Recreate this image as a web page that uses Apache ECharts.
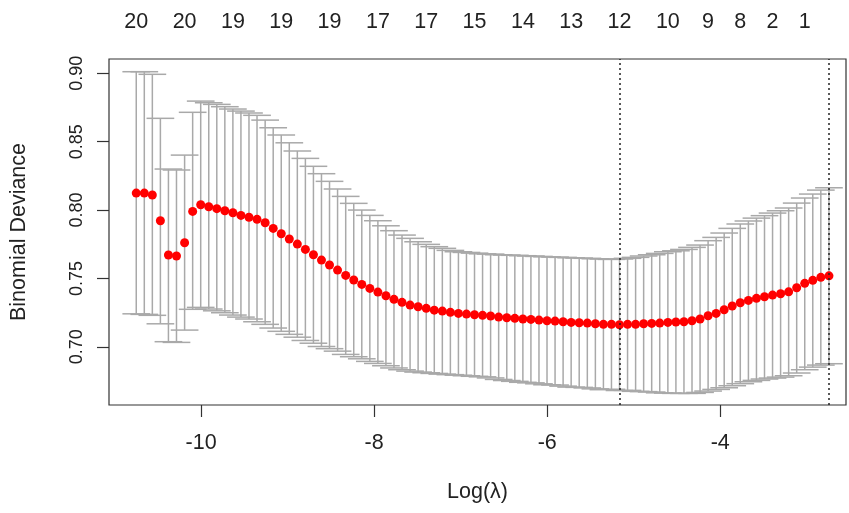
<!DOCTYPE html>
<html>
<head>
<meta charset="utf-8">
<script src="https://cdn.jsdelivr.net/npm/echarts@6/dist/echarts.min.js"></script>
<style>
html, body { margin: 0; padding: 0; background: #fff; }
#chart { width: 849px; height: 513px; }
</style>
</head>
<body>
<div id="chart"></div>
<script>
// log(lambda) of each fit on the path
var logLambda = [
  -10.750, -10.657, -10.564, -10.471, -10.378, -10.285, -10.191, -10.098, -10.005, -9.912,
  -9.819, -9.726, -9.633, -9.540, -9.447, -9.354, -9.260, -9.167, -9.074, -8.981,
  -8.888, -8.795, -8.702, -8.609, -8.516, -8.423, -8.329, -8.236, -8.143, -8.050,
  -7.957, -7.864, -7.771, -7.678, -7.585, -7.492, -7.398, -7.305, -7.212, -7.119,
  -7.026, -6.933, -6.840, -6.747, -6.654, -6.561, -6.467, -6.374, -6.281, -6.188,
  -6.095, -6.002, -5.909, -5.816, -5.723, -5.630, -5.536, -5.443, -5.350, -5.257,
  -5.164, -5.071, -4.978, -4.885, -4.792, -4.699, -4.605, -4.512, -4.419, -4.326,
  -4.233, -4.140, -4.047, -3.954, -3.861, -3.768, -3.674, -3.581, -3.488, -3.395,
  -3.302, -3.209, -3.116, -3.023, -2.930, -2.837, -2.743
];
// mean cross-validated binomial deviance
var cvm = [
  0.8124, 0.8124, 0.8110, 0.7922, 0.7671, 0.7664, 0.7761, 0.7990, 0.8039, 0.8024,
  0.8010, 0.7995, 0.7980, 0.7961, 0.7947, 0.7932, 0.7907, 0.7866, 0.7827, 0.7788,
  0.7751, 0.7712, 0.7673, 0.7634, 0.7598, 0.7561, 0.7522, 0.7488, 0.7456, 0.7427,
  0.7400, 0.7373, 0.7347, 0.7325, 0.7305, 0.7293, 0.7281, 0.7268, 0.7261, 0.7252,
  0.7244, 0.7239, 0.7234, 0.7230, 0.7225, 0.7217, 0.7212, 0.7208, 0.7203, 0.7200,
  0.7195, 0.7190, 0.7188, 0.7183, 0.7178, 0.7176, 0.7173, 0.7168, 0.7164, 0.7164,
  0.7161, 0.7164, 0.7164, 0.7168, 0.7171, 0.7173, 0.7178, 0.7181, 0.7183, 0.7190,
  0.7203, 0.7227, 0.7244, 0.7271, 0.7298, 0.7322, 0.7339, 0.7354, 0.7366, 0.7378,
  0.7388, 0.7402, 0.7432, 0.7464, 0.7486, 0.7508, 0.7519
];
// upper / lower ends of the error bars
var cvUp = [
  0.9012, 0.9012, 0.8993, 0.8671, 0.8300, 0.8293, 0.8402, 0.8715, 0.8797, 0.8785,
  0.8773, 0.8756, 0.8739, 0.8724, 0.8710, 0.8693, 0.8658, 0.8602, 0.8549, 0.8492,
  0.8432, 0.8378, 0.8320, 0.8266, 0.8210, 0.8154, 0.8100, 0.8049, 0.8000, 0.7961,
  0.7922, 0.7885, 0.7849, 0.7817, 0.7793, 0.7768, 0.7749, 0.7732, 0.7720, 0.7705,
  0.7695, 0.7690, 0.7685, 0.7680, 0.7678, 0.7673, 0.7671, 0.7669, 0.7666, 0.7664,
  0.7661, 0.7658, 0.7656, 0.7654, 0.7651, 0.7649, 0.7647, 0.7644, 0.7642, 0.7639,
  0.7642, 0.7647, 0.7654, 0.7664, 0.7673, 0.7683, 0.7695, 0.7702, 0.7712, 0.7727,
  0.7744, 0.7776, 0.7800, 0.7832, 0.7866, 0.7898, 0.7920, 0.7941, 0.7959, 0.7978,
  0.7995, 0.8015, 0.8051, 0.8088, 0.8117, 0.8146, 0.8163
];
var cvLo = [
  0.7241, 0.7237, 0.7230, 0.7168, 0.7037, 0.7032, 0.7122, 0.7274, 0.7288, 0.7276,
  0.7263, 0.7249, 0.7232, 0.7217, 0.7203, 0.7183, 0.7164, 0.7137, 0.7113, 0.7091,
  0.7070, 0.7046, 0.7026, 0.7002, 0.6986, 0.6968, 0.6944, 0.6927, 0.6912, 0.6893,
  0.6878, 0.6861, 0.6845, 0.6832, 0.6822, 0.6815, 0.6810, 0.6805, 0.6800, 0.6796,
  0.6792, 0.6788, 0.6784, 0.6780, 0.6772, 0.6761, 0.6753, 0.6747, 0.6740, 0.6736,
  0.6729, 0.6722, 0.6720, 0.6712, 0.6705, 0.6703, 0.6699, 0.6692, 0.6686, 0.6689,
  0.6680, 0.6681, 0.6674, 0.6672, 0.6669, 0.6663, 0.6661, 0.6659, 0.6659, 0.6659,
  0.6666, 0.6676, 0.6688, 0.6700, 0.6715, 0.6730, 0.6744, 0.6754, 0.6764, 0.6771,
  0.6778, 0.6788, 0.6808, 0.6832, 0.6851, 0.6866, 0.6876
];
// top axis: number of non-zero coefficients at some of the fits
var nzIndex = [0, 6, 12, 18, 24, 30, 36, 42, 48, 54, 60, 66, 71, 75, 79, 83];
var nzLabels = ['20', '20', '19', '19', '19', '17', '17', '15', '14', '13', '12', '10', '9', '8', '2', '1'];
var xTicks = [-10, -8, -6, -4];
var yTicks = [0.70, 0.75, 0.80, 0.85, 0.90];
// lambda.min and lambda.1se
var cutLines = [-5.164, -2.743];

var xMin = -11.065, xMax = -2.546;
var yMin = 0.6574, yMax = 0.9105;
var font = 'Liberation Sans, Arial, sans-serif';
var ink = '#222';

// caps are 2% of the lambda range wide on each side
var barw = (logLambda[logLambda.length - 1] - logLambda[0]) * 0.02;

var chart = echarts.init(document.getElementById('chart'));

function renderBar(params, api) {
    var x = api.value(0);
    var hi = api.value(1);
    var lo = api.value(2);
    var top = api.coord([x, hi]);
    var bot = api.coord([x, lo]);
    var tl = api.coord([x - barw, hi]);
    var tr = api.coord([x + barw, hi]);
    var bl = api.coord([x - barw, lo]);
    var br = api.coord([x + barw, lo]);
    var style = { stroke: '#a9a9a9', lineWidth: 1.5, fill: null };
    return {
        type: 'group',
        children: [
            { type: 'line', shape: { x1: top[0], y1: top[1], x2: bot[0], y2: bot[1] }, style: style },
            { type: 'line', shape: { x1: tl[0], y1: tl[1], x2: tr[0], y2: tr[1] }, style: style },
            { type: 'line', shape: { x1: bl[0], y1: bl[1], x2: br[0], y2: br[1] }, style: style }
        ]
    };
}

var barData = logLambda.map(function (x, i) { return [x, cvUp[i], cvLo[i]]; });
var dotData = logLambda.map(function (x, i) { return [x, cvm[i]]; });
var topValues = nzIndex.map(function (i) { return logLambda[i]; });

chart.setOption({
    animation: false,
    backgroundColor: '#fff',
    textStyle: { fontFamily: font },
    grid: {
        left: 108, right: 3, top: 59, bottom: 108,
        show: true, borderColor: '#333', borderWidth: 1.2, backgroundColor: 'transparent'
    },
    xAxis: [
        {
            type: 'value', min: xMin, max: xMax,
            name: 'Log(\u03bb)', nameLocation: 'middle', nameGap: 76,
            nameTextStyle: { fontSize: 21.5, color: ink, fontFamily: font },
            axisLine: { show: false },
            splitLine: { show: false },
            axisTick: { show: true, length: 12, inside: false, customValues: xTicks, lineStyle: { color: '#333', width: 1.2 } },
            axisLabel: { customValues: xTicks, fontSize: 21.5, color: ink, margin: 27, fontFamily: font }
        },
        {
            type: 'value', min: xMin, max: xMax, position: 'top',
            axisLine: { show: false },
            splitLine: { show: false },
            axisTick: { show: false },
            axisLabel: {
                customValues: topValues, fontSize: 21.5, color: ink, margin: 26, fontFamily: font,
                formatter: function (v) {
                    for (var j = 0; j < topValues.length; j++) {
                        if (Math.abs(topValues[j] - v) < 1e-6) return nzLabels[j];
                    }
                    return '';
                }
            }
        }
    ],
    yAxis: {
        type: 'value', min: yMin, max: yMax,
        name: 'Binomial Deviance', nameLocation: 'middle', nameGap: 79, nameRotate: 90,
        nameTextStyle: { fontSize: 21.5, color: ink, fontFamily: font },
        axisLine: { show: false },
        splitLine: { show: false },
        axisTick: { show: true, length: 12, customValues: yTicks, lineStyle: { color: '#333', width: 1.2 } },
        axisLabel: {
            customValues: yTicks, rotate: 90, fontSize: 18, color: ink, margin: 23, fontFamily: font,
            formatter: function (v) { return v.toFixed(2); }
        }
    },
    series: [
        {
            type: 'custom',
            renderItem: renderBar,
            data: barData,
            encode: { x: 0, y: [1, 2] },
            silent: true,
            z: 2
        },
        {
            type: 'scatter',
            data: dotData,
            symbol: 'circle',
            symbolSize: 9,
            itemStyle: { color: '#ff0000', opacity: 1 },
            silent: true,
            z: 3,
            markLine: {
                silent: true,
                symbol: 'none',
                label: { show: false },
                lineStyle: { type: [2, 3], color: '#222', width: 1.5 },
                data: cutLines.map(function (v) { return { xAxis: v }; })
            }
        }
    ]
});
</script>
</body>
</html>
